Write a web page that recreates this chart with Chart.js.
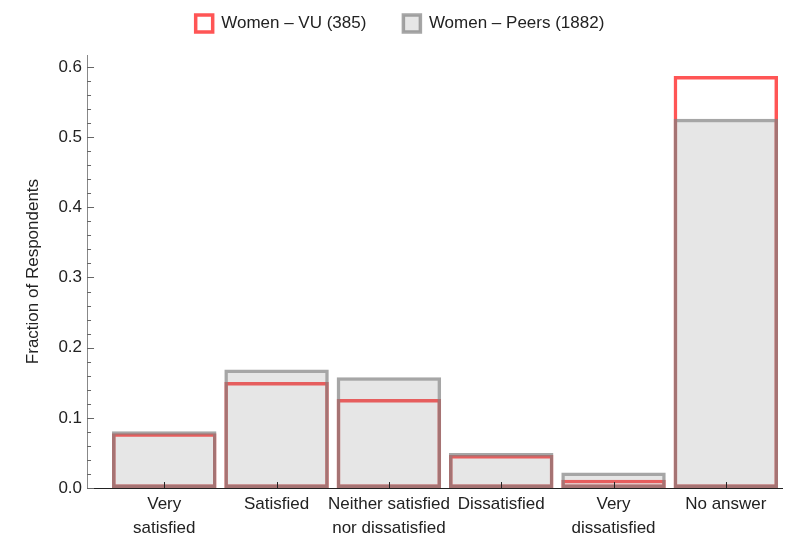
<!DOCTYPE html>
<html>
<head>
<meta charset="utf-8">
<script src="https://cdn.jsdelivr.net/npm/chart.js@4/dist/chart.umd.min.js"></script>
<style>
  html, body { margin: 0; padding: 0; background: #fff; }
  canvas { display: block; }
</style>
</head>
<body>
<canvas id="chart" width="785" height="551"></canvas>
<script>
// categories and values
const categories = [
  ['Very', 'satisfied'],
  'Satisfied',
  ['Neither satisfied', 'nor dissatisfied'],
  'Dissatisfied',
  ['Very', 'dissatisfied'],
  'No answer'
];
const womenVU = [0.078, 0.151, 0.127, 0.047, 0.012, 0.587];
const womenPeers = [0.081, 0.169, 0.158, 0.050, 0.022, 0.526];
const yTicks = [0, 0.1, 0.2, 0.3, 0.4, 0.5, 0.6];
const yMinorStep = 0.02;

const FONT = "'Liberation Sans', Arial, sans-serif";

// inward ticks like the original (major + minor on y, centred ticks on x)
const inwardTicks = {
  id: 'inwardTicks',
  beforeLayout(chart) {
    // extra room between the legend and the plot
    const lg = chart.legend;
    if (lg && !lg._patched) {
      const fit = lg.fit;
      lg.fit = function () { fit.call(this); this.height += 13; };
      lg._patched = true;
    }
  },
  afterDraw(chart) {
    const c = chart.ctx;
    const xs = chart.scales.x, ys = chart.scales.y;
    const x0 = chart.chartArea.left, y0 = chart.chartArea.bottom;
    c.save();
    c.lineWidth = 1;
    c.strokeStyle = '#666';
    for (let v = 0; v <= ys.max + 1e-9; v += yMinorStep) {
      const isMajor = Math.abs(v * 10 - Math.round(v * 10)) < 1e-6;
      const py = Math.round(ys.getPixelForValue(v)) + 0.5;
      c.beginPath();
      c.moveTo(x0, py);
      c.lineTo(x0 + (isMajor ? 7 : 4), py);
      c.stroke();
    }
    c.strokeStyle = '#222';
    categories.forEach((_, i) => {
      const px = Math.round(xs.getPixelForValue(i)) + 0.5;
      c.beginPath();
      c.moveTo(px, y0);
      c.lineTo(px, y0 - 6);
      c.stroke();
    });
    c.restore();
  }
};

const ctx = document.getElementById('chart').getContext('2d');
const chart = new Chart(ctx, {
  type: 'bar',
  data: {
    datasets: [
      {
        label: 'Women \u2013 VU (385)',
        data: womenVU.map((v, i) => ({ x: i, y: v })),
        backgroundColor: 'rgba(255,255,255,0)',
        borderColor: '#ff5555',
        borderWidth: 3.5,
        borderSkipped: false,
        order: 1
      },
      {
        label: 'Women \u2013 Peers (1882)',
        data: womenPeers.map((v, i) => ({ x: i, y: v })),
        backgroundColor: 'rgba(128,128,128,0.2)',
        borderColor: 'rgba(128,128,128,0.7)',
        borderWidth: 3.5,
        borderSkipped: false,
        order: 0
      }
    ]
  },
  options: {
    responsive: false,
    devicePixelRatio: 1,
    animation: false,
    grouped: false,
    barPercentage: 0.93,
    categoryPercentage: 1,
    layout: { padding: { left: 18, right: 3, top: -22, bottom: 7 } },
    plugins: {
      tooltip: { enabled: false },
      legend: {
        position: 'top',
        labels: {
          color: '#222',
          font: { family: FONT, size: 17 },
          boxWidth: 17,
          boxHeight: 17,
          padding: 37,
          sort: (a, b) => a.datasetIndex - b.datasetIndex
        }
      }
    },
    scales: {
      x: {
        type: 'linear',
        min: -0.6875,
        max: 5.5,
        offset: false,
        grid: { display: false, drawTicks: false },
        border: { display: true, color: '#222', width: 1 },
        afterBuildTicks: (s) => { s.ticks = categories.map((_, i) => ({ value: i })); },
        ticks: {
          color: '#222',
          font: { family: FONT, size: 17, lineHeight: 1.41 },
          padding: 4,
          maxRotation: 0,
          autoSkip: false,
          callback: (v) => categories[v]
        }
      },
      y: {
        min: 0,
        max: 0.617,
        grid: { display: false, drawTicks: false },
        border: { display: true, color: '#888', width: 1 },
        afterBuildTicks: (s) => { s.ticks = yTicks.map(v => ({ value: v })); },
        ticks: {
          color: '#222',
          font: { family: FONT, size: 17 },
          padding: 5,
          callback: (v) => v.toFixed(1)
        },
        title: {
          display: true,
          text: 'Fraction of Respondents',
          color: '#222',
          font: { family: FONT, size: 17 },
          padding: { top: 5, bottom: 10 }
        }
      }
    }
  },
  plugins: [inwardTicks]
});
</script>
</body>
</html>
